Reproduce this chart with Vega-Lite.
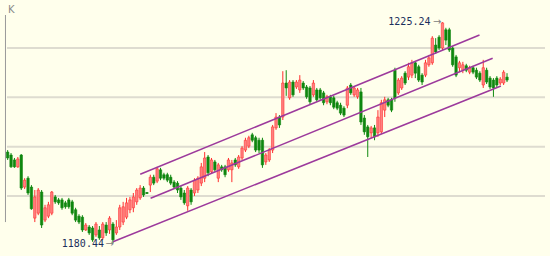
{
  "$schema": "https://vega.github.io/schema/vega-lite/v6.json",
  "width": 550,
  "height": 256,
  "autosize": {"type": "fit", "contains": "padding"},
  "padding": 0,
  "background": "#ffffec",
  "config": {"view": {"stroke": null}},
  "datasets": {
    "k": [
      {"i":0,"o":1198.9,"h":1199.3,"l":1197.3,"c":1197.7},
      {"i":1,"o":1198.3,"h":1198.7,"l":1195.7,"c":1195.9},
      {"i":2,"o":1197.3,"h":1197.7,"l":1195.7,"c":1195.9},
      {"i":3,"o":1195.9,"h":1197.9,"l":1195.7,"c":1197.5},
      {"i":4,"o":1198.3,"h":1198.5,"l":1191.2,"c":1191.6},
      {"i":5,"o":1191.8,"h":1193.6,"l":1191.4,"c":1193.2},
      {"i":6,"o":1193.6,"h":1194.0,"l":1190.2,"c":1190.6},
      {"i":7,"o":1191.8,"h":1192.2,"l":1187.2,"c":1187.4},
      {"i":8,"o":1185.5,"h":1191.2,"l":1184.7,"c":1189.8},
      {"i":9,"o":1186.5,"h":1191.6,"l":1186.1,"c":1191.2},
      {"i":10,"o":1190.8,"h":1191.2,"l":1183.5,"c":1184.1},
      {"i":11,"o":1185.1,"h":1188.2,"l":1184.7,"c":1187.6},
      {"i":12,"o":1185.9,"h":1188.8,"l":1185.5,"c":1188.2},
      {"i":13,"o":1186.5,"h":1191.0,"l":1186.1,"c":1190.8},
      {"i":14,"o":1189.8,"h":1190.2,"l":1188.4,"c":1188.8},
      {"i":15,"o":1189.2,"h":1189.6,"l":1188.2,"c":1188.6},
      {"i":16,"o":1189.2,"h":1189.6,"l":1187.2,"c":1187.6},
      {"i":17,"o":1188.6,"h":1189.0,"l":1187.4,"c":1187.8},
      {"i":18,"o":1189.2,"h":1189.6,"l":1187.4,"c":1187.8},
      {"i":19,"o":1188.8,"h":1189.2,"l":1186.1,"c":1186.5},
      {"i":20,"o":1187.2,"h":1187.6,"l":1184.7,"c":1185.1},
      {"i":21,"o":1185.9,"h":1186.3,"l":1184.3,"c":1184.7},
      {"i":22,"o":1185.7,"h":1186.1,"l":1182.7,"c":1183.1},
      {"i":23,"o":1183.1,"h":1184.5,"l":1182.9,"c":1184.1},
      {"i":24,"o":1183.7,"h":1184.1,"l":1182.1,"c":1182.5},
      {"i":25,"o":1183.5,"h":1183.9,"l":1180.7,"c":1181.1},
      {"i":26,"o":1182.1,"h":1184.7,"l":1181.7,"c":1184.3},
      {"i":27,"o":1183.1,"h":1183.9,"l":1181.1,"c":1181.5},
      {"i":28,"o":1181.5,"h":1184.7,"l":1181.1,"c":1184.3},
      {"i":29,"o":1184.1,"h":1184.7,"l":1181.9,"c":1182.5},
      {"i":30,"o":1183.1,"h":1185.9,"l":1182.3,"c":1185.5},
      {"i":31,"o":1184.3,"h":1184.7,"l":1180.44,"c":1181.1},
      {"i":32,"o":1182.5,"h":1185.1,"l":1182.1,"c":1183.7},
      {"i":33,"o":1183.7,"h":1188.2,"l":1183.1,"c":1187.6},
      {"i":34,"o":1184.7,"h":1188.8,"l":1184.1,"c":1187.8},
      {"i":35,"o":1185.7,"h":1189.6,"l":1185.3,"c":1188.6},
      {"i":36,"o":1187.2,"h":1189.8,"l":1186.5,"c":1189.2},
      {"i":37,"o":1187.6,"h":1190.6,"l":1186.7,"c":1189.8},
      {"i":38,"o":1188.8,"h":1191.6,"l":1188.2,"c":1191.2},
      {"i":39,"o":1189.6,"h":1192.2,"l":1189.2,"c":1191.6},
      {"i":40,"o":1191.6,"h":1192.0,"l":1189.8,"c":1190.2},
      {"i":41,"o":1190.7,"h":1190.8,"l":1190.4,"c":1190.5},
      {"i":42,"o":1192.2,"h":1194.3,"l":1190.8,"c":1193.8},
      {"i":43,"o":1193.8,"h":1194.3,"l":1192.2,"c":1192.6},
      {"i":44,"o":1193.0,"h":1195.9,"l":1192.6,"c":1195.5},
      {"i":45,"o":1195.3,"h":1195.7,"l":1193.2,"c":1193.6},
      {"i":46,"o":1194.3,"h":1194.7,"l":1193.2,"c":1193.6},
      {"i":47,"o":1194.3,"h":1194.7,"l":1192.8,"c":1193.2},
      {"i":48,"o":1193.8,"h":1194.3,"l":1192.2,"c":1192.6},
      {"i":49,"o":1192.8,"h":1193.2,"l":1191.4,"c":1191.8},
      {"i":50,"o":1192.6,"h":1193.0,"l":1190.6,"c":1191.2},
      {"i":51,"o":1191.6,"h":1192.0,"l":1189.2,"c":1189.8},
      {"i":52,"o":1190.6,"h":1191.2,"l":1188.2,"c":1188.6},
      {"i":53,"o":1188.0,"h":1192.0,"l":1187.0,"c":1191.6},
      {"i":54,"o":1191.2,"h":1191.6,"l":1188.2,"c":1188.8},
      {"i":55,"o":1190.6,"h":1193.6,"l":1190.0,"c":1193.2},
      {"i":56,"o":1191.2,"h":1194.0,"l":1190.6,"c":1193.6},
      {"i":57,"o":1192.6,"h":1196.7,"l":1192.0,"c":1195.9},
      {"i":58,"o":1193.6,"h":1198.9,"l":1192.8,"c":1197.7},
      {"i":59,"o":1197.9,"h":1198.3,"l":1194.0,"c":1194.7},
      {"i":60,"o":1194.9,"h":1197.7,"l":1194.5,"c":1197.3},
      {"i":61,"o":1196.9,"h":1197.3,"l":1194.9,"c":1195.3},
      {"i":62,"o":1193.6,"h":1196.7,"l":1192.8,"c":1196.3},
      {"i":63,"o":1195.9,"h":1196.3,"l":1194.9,"c":1195.3},
      {"i":64,"o":1195.9,"h":1196.3,"l":1193.8,"c":1194.3},
      {"i":65,"o":1195.3,"h":1197.7,"l":1194.9,"c":1197.3},
      {"i":66,"o":1195.3,"h":1197.3,"l":1192.8,"c":1196.7},
      {"i":67,"o":1197.3,"h":1197.7,"l":1195.9,"c":1196.3},
      {"i":68,"o":1195.9,"h":1198.3,"l":1195.5,"c":1197.9},
      {"i":69,"o":1197.7,"h":1200.1,"l":1197.3,"c":1199.7},
      {"i":70,"o":1199.3,"h":1201.8,"l":1198.9,"c":1201.3},
      {"i":71,"o":1200.1,"h":1202.2,"l":1199.7,"c":1201.8},
      {"i":72,"o":1202.4,"h":1202.8,"l":1200.9,"c":1201.3},
      {"i":73,"o":1201.8,"h":1202.2,"l":1198.9,"c":1199.3},
      {"i":74,"o":1201.3,"h":1201.8,"l":1198.7,"c":1199.3},
      {"i":75,"o":1201.3,"h":1201.8,"l":1195.7,"c":1196.3},
      {"i":76,"o":1196.9,"h":1198.7,"l":1196.3,"c":1198.3},
      {"i":77,"o":1197.3,"h":1199.7,"l":1196.9,"c":1199.3},
      {"i":78,"o":1199.3,"h":1204.4,"l":1198.7,"c":1204.0},
      {"i":79,"o":1203.8,"h":1206.8,"l":1203.4,"c":1206.0},
      {"i":80,"o":1206.0,"h":1206.4,"l":1203.8,"c":1204.4},
      {"i":81,"o":1206.0,"h":1215.3,"l":1205.4,"c":1212.9},
      {"i":82,"o":1212.9,"h":1215.5,"l":1210.3,"c":1211.9},
      {"i":83,"o":1209.9,"h":1213.5,"l":1209.5,"c":1213.1},
      {"i":84,"o":1213.1,"h":1213.5,"l":1210.1,"c":1210.5},
      {"i":85,"o":1212.1,"h":1213.5,"l":1211.7,"c":1213.1},
      {"i":86,"o":1211.5,"h":1214.5,"l":1210.9,"c":1213.5},
      {"i":87,"o":1212.9,"h":1213.3,"l":1211.5,"c":1211.9},
      {"i":88,"o":1212.1,"h":1212.5,"l":1209.7,"c":1210.1},
      {"i":89,"o":1211.9,"h":1212.3,"l":1208.6,"c":1209.1},
      {"i":90,"o":1210.5,"h":1213.5,"l":1210.1,"c":1212.9},
      {"i":91,"o":1211.5,"h":1211.9,"l":1209.1,"c":1209.5},
      {"i":92,"o":1211.5,"h":1211.9,"l":1209.5,"c":1209.9},
      {"i":93,"o":1210.9,"h":1211.3,"l":1208.4,"c":1208.9},
      {"i":94,"o":1209.1,"h":1210.5,"l":1208.6,"c":1210.1},
      {"i":95,"o":1210.1,"h":1210.5,"l":1208.4,"c":1208.9},
      {"i":96,"o":1209.9,"h":1210.3,"l":1207.6,"c":1208.0},
      {"i":97,"o":1208.9,"h":1209.3,"l":1207.4,"c":1207.8},
      {"i":98,"o":1208.4,"h":1208.9,"l":1206.4,"c":1206.8},
      {"i":99,"o":1207.8,"h":1208.2,"l":1206.0,"c":1206.4},
      {"i":100,"o":1208.4,"h":1212.3,"l":1207.8,"c":1211.9},
      {"i":101,"o":1212.5,"h":1212.9,"l":1210.5,"c":1210.9},
      {"i":102,"o":1210.5,"h":1212.3,"l":1210.1,"c":1211.9},
      {"i":103,"o":1210.1,"h":1211.9,"l":1209.7,"c":1211.5},
      {"i":104,"o":1211.1,"h":1211.9,"l":1204.4,"c":1205.0},
      {"i":105,"o":1205.8,"h":1206.4,"l":1202.4,"c":1203.0},
      {"i":106,"o":1204.0,"h":1204.4,"l":1197.9,"c":1202.0},
      {"i":107,"o":1202.8,"h":1204.2,"l":1201.8,"c":1203.8},
      {"i":108,"o":1203.8,"h":1204.4,"l":1201.3,"c":1202.0},
      {"i":109,"o":1202.8,"h":1207.4,"l":1202.0,"c":1206.0},
      {"i":110,"o":1203.0,"h":1209.5,"l":1202.6,"c":1208.9},
      {"i":111,"o":1207.4,"h":1210.1,"l":1206.0,"c":1209.5},
      {"i":112,"o":1209.5,"h":1209.9,"l":1208.0,"c":1208.4},
      {"i":113,"o":1209.5,"h":1209.9,"l":1207.0,"c":1207.4},
      {"i":114,"o":1215.5,"h":1216.0,"l":1209.1,"c":1209.9},
      {"i":115,"o":1210.9,"h":1213.9,"l":1210.5,"c":1213.5},
      {"i":116,"o":1211.9,"h":1214.3,"l":1211.5,"c":1213.9},
      {"i":117,"o":1214.9,"h":1215.3,"l":1212.5,"c":1212.9},
      {"i":118,"o":1214.1,"h":1217.0,"l":1213.5,"c":1216.2},
      {"i":119,"o":1214.5,"h":1217.6,"l":1213.9,"c":1217.0},
      {"i":120,"o":1217.0,"h":1217.4,"l":1213.9,"c":1214.9},
      {"i":121,"o":1216.2,"h":1216.6,"l":1213.1,"c":1213.5},
      {"i":122,"o":1214.5,"h":1214.9,"l":1212.5,"c":1213.1},
      {"i":123,"o":1214.5,"h":1217.6,"l":1214.1,"c":1217.0},
      {"i":124,"o":1216.6,"h":1218.6,"l":1216.2,"c":1218.0},
      {"i":125,"o":1217.0,"h":1222.4,"l":1216.6,"c":1222.0},
      {"i":126,"o":1220.6,"h":1222.0,"l":1218.8,"c":1219.2},
      {"i":127,"o":1222.2,"h":1222.6,"l":1219.6,"c":1220.0},
      {"i":128,"o":1220.0,"h":1225.24,"l":1219.6,"c":1225.1},
      {"i":129,"o":1223.7,"h":1224.1,"l":1220.6,"c":1221.6},
      {"i":130,"o":1223.7,"h":1224.1,"l":1219.2,"c":1219.6},
      {"i":131,"o":1220.0,"h":1220.4,"l":1216.2,"c":1216.6},
      {"i":132,"o":1218.2,"h":1218.6,"l":1214.1,"c":1214.5},
      {"i":133,"o":1216.0,"h":1217.4,"l":1215.1,"c":1217.0},
      {"i":134,"o":1215.5,"h":1217.2,"l":1214.9,"c":1216.6},
      {"i":135,"o":1216.4,"h":1216.8,"l":1215.1,"c":1215.5},
      {"i":136,"o":1215.1,"h":1216.4,"l":1214.7,"c":1216.0},
      {"i":137,"o":1216.0,"h":1216.4,"l":1214.7,"c":1215.1},
      {"i":138,"o":1215.5,"h":1216.0,"l":1213.7,"c":1214.1},
      {"i":139,"o":1214.9,"h":1215.3,"l":1213.1,"c":1213.5},
      {"i":140,"o":1212.5,"h":1217.6,"l":1211.9,"c":1216.0},
      {"i":141,"o":1215.5,"h":1216.0,"l":1212.7,"c":1213.1},
      {"i":142,"o":1213.9,"h":1214.3,"l":1211.7,"c":1212.1},
      {"i":143,"o":1213.5,"h":1213.9,"l":1210.1,"c":1211.9},
      {"i":144,"o":1213.9,"h":1214.3,"l":1212.1,"c":1212.5},
      {"i":145,"o":1212.9,"h":1214.1,"l":1212.5,"c":1213.7},
      {"i":146,"o":1212.9,"h":1215.5,"l":1212.5,"c":1215.1},
      {"i":147,"o":1214.1,"h":1214.9,"l":1213.1,"c":1213.5}
    ],
    "grid": [{"p": 1190}, {"p": 1200}, {"p": 1210}, {"p": 1220}],
    "channels": [
      {"i1": 31.0, "p1": 1180.72, "i2": 145.2, "p2": 1212.30},
      {"i1": 42.08, "p1": 1189.52, "i2": 142.77, "p2": 1217.92},
      {"i1": 39.02, "p1": 1194.39, "i2": 138.9, "p2": 1222.64}
    ],
    "frame": [{"i": -0.64, "p1": 1226.7, "p2": 1184.7}],
    "hi": [{"i": 128, "p": 1225.24, "t": "1225.24"}],
    "lo": [{"i": 31, "p": 1180.44, "t": "1180.44"}],
    "title": [{"i": 0.1, "p": 1227.7, "t": "K"}]
  },
  "layer": [
    {
      "data": {"name": "grid"},
      "mark": {"type": "rule", "stroke": "#dedcd0", "strokeWidth": 2},
      "encoding": {
        "y": {"field": "p", "type": "quantitative", "scale": {"domain": [1177.82, 1229.74], "nice": false, "zero": false}, "axis": null},
        "x": {"datum": -0.2, "type": "quantitative", "scale": {"domain": [-0.78, 158.18], "nice": false, "zero": false}, "axis": null},
        "x2": {"datum": 158.18}
      }
    },
    {
      "data": {"name": "frame"},
      "mark": {"type": "rule", "stroke": "#9a9a9a", "strokeWidth": 1},
      "encoding": {
        "x": {"field": "i", "type": "quantitative", "scale": {"domain": [-0.78, 158.18], "nice": false, "zero": false}, "axis": null},
        "y": {"field": "p1", "type": "quantitative", "scale": {"domain": [1177.82, 1229.74], "nice": false, "zero": false}, "axis": null},
        "y2": {"field": "p2"}
      }
    },
    {
      "data": {"name": "title"},
      "mark": {"type": "text", "align": "left", "baseline": "middle", "font": "DejaVu Sans", "fontSize": 10, "fill": "#8a8a8a"},
      "encoding": {
        "x": {"field": "i", "type": "quantitative", "scale": {"domain": [-0.78, 158.18], "nice": false, "zero": false}, "axis": null},
        "y": {"field": "p", "type": "quantitative", "scale": {"domain": [1177.82, 1229.74], "nice": false, "zero": false}, "axis": null},
        "text": {"field": "t"}
      }
    },
    {
      "data": {"name": "k"},
      "mark": {"type": "rule", "strokeWidth": 1},
      "encoding": {
        "x": {"field": "i", "type": "quantitative", "scale": {"domain": [-0.78, 158.18], "nice": false, "zero": false}, "axis": null},
        "y": {"field": "l", "type": "quantitative", "scale": {"domain": [1177.82, 1229.74], "nice": false, "zero": false}, "axis": null},
        "y2": {"field": "h"},
        "stroke": {"condition": {"test": "datum.c >= datum.o", "value": "#ff2d2d"}, "value": "#118a11"}
      }
    },
    {
      "data": {"name": "k"},
      "mark": {"type": "bar", "width": 2.4, "strokeWidth": 0.6},
      "encoding": {
        "x": {"field": "i", "type": "quantitative", "scale": {"domain": [-0.78, 158.18], "nice": false, "zero": false}, "axis": null},
        "y": {"field": "o", "type": "quantitative", "scale": {"domain": [1177.82, 1229.74], "nice": false, "zero": false}, "axis": null},
        "y2": {"field": "c"},
        "fill": {"condition": {"test": "datum.c >= datum.o", "value": "#ff8080"}, "value": "#0f870f"},
        "stroke": {"condition": {"test": "datum.c >= datum.o", "value": "#ff3030"}, "value": "#0f870f"}
      }
    },
    {
      "data": {"name": "channels"},
      "mark": {"type": "rule", "stroke": "#9c3a9c", "strokeWidth": 1.5},
      "encoding": {
        "x": {"field": "i1", "type": "quantitative", "scale": {"domain": [-0.78, 158.18], "nice": false, "zero": false}, "axis": null},
        "y": {"field": "p1", "type": "quantitative", "scale": {"domain": [1177.82, 1229.74], "nice": false, "zero": false}, "axis": null},
        "x2": {"field": "i2"},
        "y2": {"field": "p2"}
      }
    },
    {
      "data": {"name": "hi"},
      "mark": {"type": "text", "align": "right", "baseline": "middle", "dx": -12, "dy": 0, "font": "DejaVu Sans Mono", "fontSize": 10, "fill": "#1c2f5c"},
      "encoding": {
        "x": {"field": "i", "type": "quantitative", "scale": {"domain": [-0.78, 158.18], "nice": false, "zero": false}, "axis": null},
        "y": {"field": "p", "type": "quantitative", "scale": {"domain": [1177.82, 1229.74], "nice": false, "zero": false}, "axis": null},
        "text": {"field": "t"}
      }
    },
    {
      "data": {"name": "hi"},
      "mark": {"type": "text", "align": "right", "baseline": "middle", "dx": -1, "font": "DejaVu Sans", "fontSize": 10, "fill": "#808080", "text": "→"},
      "encoding": {
        "x": {"field": "i", "type": "quantitative", "scale": {"domain": [-0.78, 158.18], "nice": false, "zero": false}, "axis": null},
        "y": {"field": "p", "type": "quantitative", "scale": {"domain": [1177.82, 1229.74], "nice": false, "zero": false}, "axis": null}
      }
    },
    {
      "data": {"name": "lo"},
      "mark": {"type": "text", "align": "right", "baseline": "middle", "dx": -9, "dy": 1, "font": "DejaVu Sans Mono", "fontSize": 10, "fill": "#1c2f5c"},
      "encoding": {
        "x": {"field": "i", "type": "quantitative", "scale": {"domain": [-0.78, 158.18], "nice": false, "zero": false}, "axis": null},
        "y": {"field": "p", "type": "quantitative", "scale": {"domain": [1177.82, 1229.74], "nice": false, "zero": false}, "axis": null},
        "text": {"field": "t"}
      }
    },
    {
      "data": {"name": "lo"},
      "mark": {"type": "text", "align": "right", "baseline": "middle", "dx": 1, "dy": 1, "font": "DejaVu Sans", "fontSize": 10, "fill": "#808080", "text": "→"},
      "encoding": {
        "x": {"field": "i", "type": "quantitative", "scale": {"domain": [-0.78, 158.18], "nice": false, "zero": false}, "axis": null},
        "y": {"field": "p", "type": "quantitative", "scale": {"domain": [1177.82, 1229.74], "nice": false, "zero": false}, "axis": null}
      }
    }
  ]
}
